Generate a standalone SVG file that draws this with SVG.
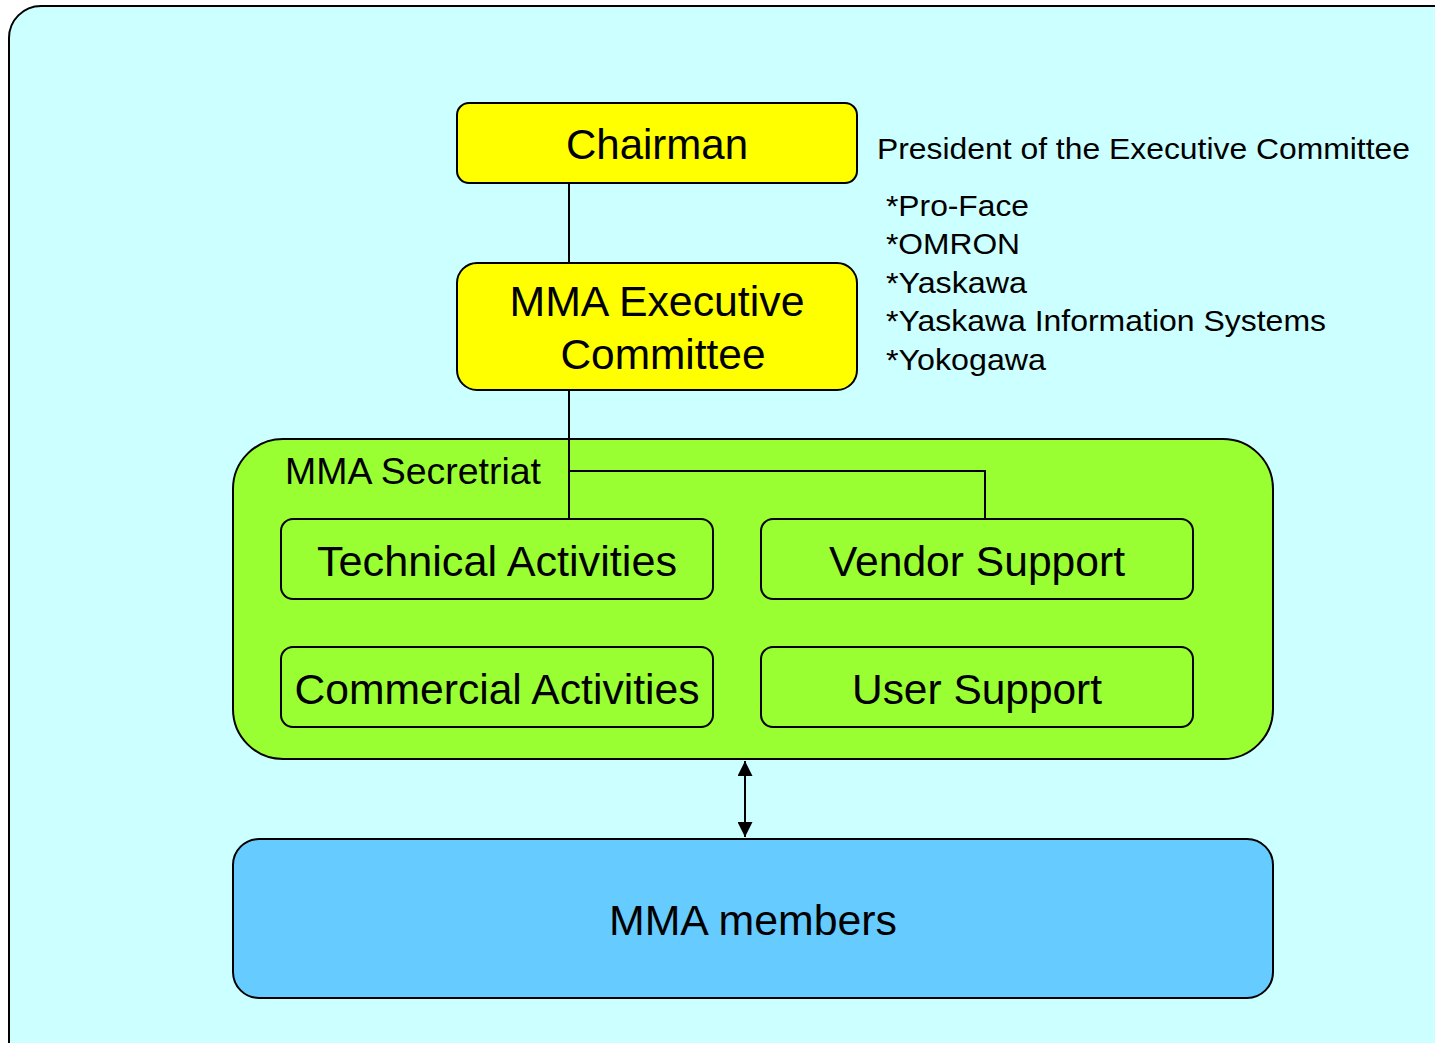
<svg xmlns="http://www.w3.org/2000/svg" width="1435" height="1043" viewBox="0 0 1435 1043">
<style>
.box{stroke:#000;stroke-width:2}
.t{font-family:"Liberation Sans",Arial,sans-serif;fill:#000}
.big{font-size:42px;text-anchor:middle}
.side{font-size:30px}
.ln{stroke:#000;stroke-width:2;fill:none}
</style>
<defs>
<marker id="ah" viewBox="0 0 10 10" refX="10" refY="5" markerWidth="15" markerHeight="15" markerUnits="userSpaceOnUse" orient="auto-start-reverse">
<path d="M0,0 L10,5 L0,10 z" fill="#000"/>
</marker>
</defs>
<rect x="0" y="0" width="1435" height="1043" fill="#fff"/>
<g id="background">
<rect x="9" y="6" width="1460" height="1070" rx="32" fill="#ccffff" class="box"/>
</g>
<g id="connectors">
<line class="ln" x1="569" y1="183" x2="569" y2="263"/>
<line class="ln" x1="569" y1="390" x2="569" y2="439"/>
<line class="ln" x1="745" y1="761" x2="745" y2="837" marker-start="url(#ah)" marker-end="url(#ah)"/>
</g>
<g id="chairman">
<rect x="457" y="103" width="400" height="80" rx="12" fill="#ffff00" class="box"/>
<text class="t big" x="657" y="159" textLength="182" lengthAdjust="spacingAndGlyphs">Chairman</text>
</g>
<g id="president-note">
<text class="t side" x="877" y="159" textLength="533" lengthAdjust="spacingAndGlyphs">President of the Executive Committee</text>
</g>
<g id="members-list">
<text class="t side" x="886" y="216" textLength="143" lengthAdjust="spacingAndGlyphs">*Pro-Face</text>
<text class="t side" x="886" y="254" textLength="134" lengthAdjust="spacingAndGlyphs">*OMRON</text>
<text class="t side" x="886" y="293" textLength="141" lengthAdjust="spacingAndGlyphs">*Yaskawa</text>
<text class="t side" x="886" y="331" textLength="440" lengthAdjust="spacingAndGlyphs">*Yaskawa Information Systems</text>
<text class="t side" x="886" y="370" textLength="160" lengthAdjust="spacingAndGlyphs">*Yokogawa</text>
</g>
<g id="executive">
<rect x="457" y="263" width="400" height="127" rx="20" fill="#ffff00" class="box"/>
<text class="t big" x="657" y="316" textLength="295" lengthAdjust="spacingAndGlyphs">MMA Executive</text>
<text class="t big" x="663" y="369" textLength="205" lengthAdjust="spacingAndGlyphs">Committee</text>
</g>
<g id="secretariat">
<rect x="233" y="439" width="1040" height="320" rx="50" fill="#99ff33" class="box"/>
<text class="t" x="285" y="484" font-size="37" textLength="256" lengthAdjust="spacingAndGlyphs">MMA Secretriat</text>
</g>
<g id="connectors-inner">
<line class="ln" x1="569" y1="439" x2="569" y2="519"/>
<polyline class="ln" points="569,471 985,471 985,519"/>
</g>
<g id="technical">
<rect x="281" y="519" width="432" height="80" rx="12" fill="#99ff33" class="box"/>
<text class="t big" x="497" y="576" textLength="360" lengthAdjust="spacingAndGlyphs">Technical Activities</text>
</g>
<g id="vendor">
<rect x="761" y="519" width="432" height="80" rx="12" fill="#99ff33" class="box"/>
<text class="t big" x="977" y="576" textLength="296" lengthAdjust="spacingAndGlyphs">Vendor Support</text>
</g>
<g id="commercial">
<rect x="281" y="647" width="432" height="80" rx="12" fill="#99ff33" class="box"/>
<text class="t big" x="497" y="704" textLength="405" lengthAdjust="spacingAndGlyphs">Commercial Activities</text>
</g>
<g id="user">
<rect x="761" y="647" width="432" height="80" rx="12" fill="#99ff33" class="box"/>
<text class="t big" x="977" y="704" textLength="250" lengthAdjust="spacingAndGlyphs">User Support</text>
</g>
<g id="members">
<rect x="233" y="839" width="1040" height="159" rx="26" fill="#66ccff" class="box"/>
<text class="t big" x="753" y="935" textLength="288" lengthAdjust="spacingAndGlyphs">MMA members</text>
</g>
</svg>
